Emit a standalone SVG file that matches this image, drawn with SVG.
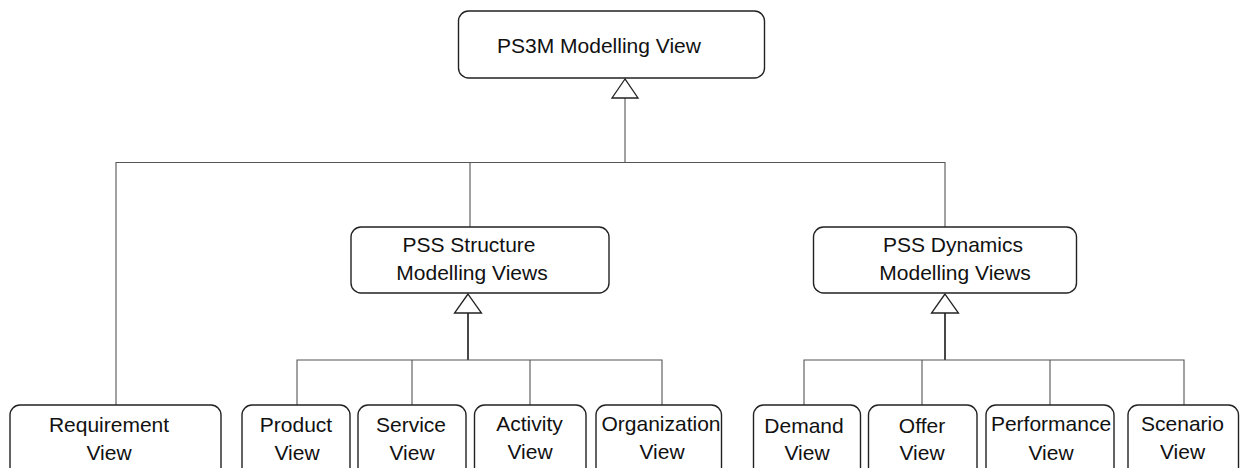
<svg xmlns="http://www.w3.org/2000/svg" width="1240" height="468" viewBox="0 0 1240 468">
  <style>
    .box { fill: #ffffff; stroke: #222222; stroke-width: 1.4; }
    .lbl { font-family: "Liberation Sans", Arial, sans-serif; font-size: 21px; fill: #111111; text-anchor: middle; }
    .wire { fill: none; stroke: #555555; stroke-width: 1.1; }
    .stem { fill: none; stroke: #333333; stroke-width: 1.8; }
    .tri { fill: #ffffff; stroke: #222222; stroke-width: 1.3; }
  </style>
  <rect width="1240" height="468" fill="#ffffff"/>

  <!-- connectors -->
  <g id="connectors">
    <!-- top level generalisation -->
    <path class="wire" d="M625,98 V162.5 M116,405 V162.5 H945 V227 M470,162.5 V227"/>
    <polygon class="tri" points="625,79 612,98 638,98"/>
    <!-- structure views -->
    <path class="stem" d="M468,313 V360"/>
    <path class="wire" d="M297,405 V360 H662 V405 M412,360 V405 M530,360 V405"/>
    <polygon class="tri" points="468,294 454.5,313 481.5,313"/>
    <!-- dynamics views -->
    <path class="stem" d="M945,313 V360"/>
    <path class="wire" d="M804,405 V360 H1184 V405 M922,360 V405 M1050,360 V405"/>
    <polygon class="tri" points="945,294 931.5,313 958.5,313"/>
  </g>

  <g id="ps3m-modelling-view">
    <rect class="box" x="458.5" y="11" width="306" height="67" rx="10"/>
    <text class="lbl" x="599" y="53">PS3M Modelling View</text>
  </g>

  <g id="pss-structure">
    <rect class="box" x="351" y="227" width="258" height="66" rx="10"/>
    <text class="lbl" x="469" y="252">PSS Structure</text>
    <text class="lbl" x="472" y="280">Modelling Views</text>
  </g>

  <g id="pss-dynamics">
    <rect class="box" x="813.5" y="227" width="263" height="66" rx="10"/>
    <text class="lbl" x="953" y="252">PSS Dynamics</text>
    <text class="lbl" x="955" y="280">Modelling Views</text>
  </g>

  <g id="requirement-view">
    <rect class="box" x="10" y="405" width="211" height="80" rx="10"/>
    <text class="lbl" x="109" y="432">Requirement</text>
    <text class="lbl" x="109" y="460">View</text>
  </g>

  <g id="product-view">
    <rect class="box" x="242" y="405" width="108" height="80" rx="10"/>
    <text class="lbl" x="296" y="432">Product</text>
    <text class="lbl" x="297" y="460">View</text>
  </g>

  <g id="service-view">
    <rect class="box" x="358" y="405" width="108" height="80" rx="10"/>
    <text class="lbl" x="411" y="432">Service</text>
    <text class="lbl" x="412" y="460">View</text>
  </g>

  <g id="activity-view">
    <rect class="box" x="474.5" y="405" width="111.5" height="80" rx="10"/>
    <text class="lbl" x="529.5" y="431">Activity</text>
    <text class="lbl" x="530" y="459">View</text>
  </g>

  <g id="organization-view">
    <rect class="box" x="596" y="405" width="125.5" height="80" rx="10"/>
    <text class="lbl" x="661" y="431">Organization</text>
    <text class="lbl" x="662" y="459">View</text>
  </g>

  <g id="demand-view">
    <rect class="box" x="753.5" y="405" width="107" height="80" rx="10"/>
    <text class="lbl" x="804" y="433">Demand</text>
    <text class="lbl" x="807" y="460">View</text>
  </g>

  <g id="offer-view">
    <rect class="box" x="868.5" y="405" width="108.5" height="80" rx="10"/>
    <text class="lbl" x="922" y="433">Offer</text>
    <text class="lbl" x="922" y="460">View</text>
  </g>

  <g id="performance-view">
    <rect class="box" x="986" y="405" width="128" height="80" rx="10"/>
    <text class="lbl" x="1051" y="431">Performance</text>
    <text class="lbl" x="1051" y="460">View</text>
  </g>

  <g id="scenario-view">
    <rect class="box" x="1128" y="405" width="110.5" height="80" rx="10"/>
    <text class="lbl" x="1182.5" y="431">Scenario</text>
    <text class="lbl" x="1182.5" y="459">View</text>
  </g>
</svg>
